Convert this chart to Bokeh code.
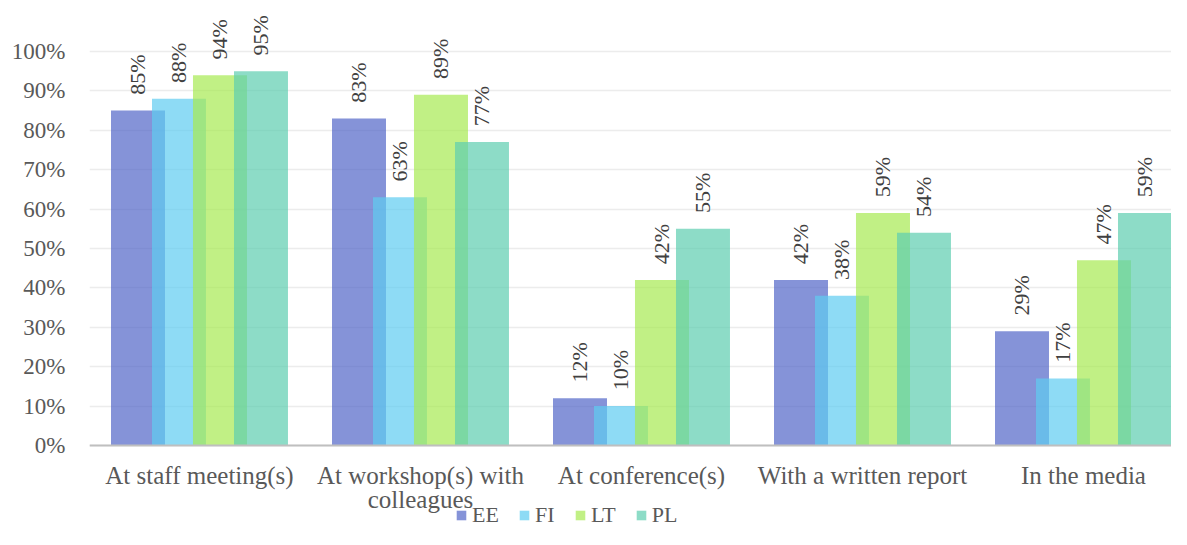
import math
from bokeh.plotting import figure
from bokeh.models import (ColumnDataSource, Range1d, FixedTicker, Legend, LegendItem,
                          NumeralTickFormatter, LabelSet)
from bokeh.core.properties import value
from bokeh.embed import file_html
from bokeh.resources import INLINE

categories = ["At staff meeting(s)", "At workshop(s) with\ncolleagues", "At conference(s)",
              "With a written report", "In the media"]
series = ["EE", "FI", "LT", "PL"]
EE = [85, 83, 12, 42, 29]
FI = [88, 63, 10, 38, 17]
LT = [94, 89, 42, 59, 47]
PL = [95, 77, 55, 54, 59]
y_ticks = [0, 10, 20, 30, 40, 50, 60, 70, 80, 90, 100]

colors = {"EE": "#5165c7", "FI": "#5eccf1", "LT": "#a6ea51", "PL": "#5ccdaf"}
data = {"EE": EE, "FI": FI, "LT": LT, "PL": PL}

FONT = "'Liberation Serif', 'Times New Roman', serif"
W, H = 1171, 529
LEFT = 89
x0 = -0.4977
PX = 394.0          # pixels per 100 %
ZERO = 445.0        # pixel row of 0 %
p = figure(width=W, height=H, output_backend="svg", toolbar_location=None,
           x_range=Range1d(x0, x0 + (W - LEFT) / 221.0),
           y_range=Range1d(-(H - ZERO) / PX, ZERO / PX),
           min_border_left=LEFT, min_border_right=0, min_border_top=0, min_border_bottom=0)
p.outline_line_color = None
p.background_fill_color = "white"

offsets = [-1.5, -0.5, 0.5, 1.5]
step = 0.1855
bw = 0.2443
items = []
for s, off in zip(series, offsets):
    xs = [i + off * step for i in range(len(categories))]
    vals = [v / 100 for v in data[s]]
    src = ColumnDataSource(dict(x=xs, top=vals, lab=[f"{v}%" for v in data[s]],
                                ly=[v + 0.04 for v in vals]))
    r = p.vbar(x="x", top="top", width=bw, bottom=0, source=src,
               fill_color=colors[s], fill_alpha=0.7, line_color=None)
    labels = LabelSet(x="x", y="ly", text="lab", source=src, angle=math.pi / 2,
                      text_align="left", text_baseline="middle", text_font=value(FONT),
                      text_font_size="22px", text_color="#404040")
    p.add_layout(labels)
    items.append(LegendItem(label=s, renderers=[r]))

p.xaxis.fixed_location = 0
p.xaxis.ticker = FixedTicker(ticks=list(range(len(categories))))
p.xaxis.major_label_overrides = {i: c for i, c in enumerate(categories)}
p.xaxis.major_label_text_font = FONT
p.xaxis.major_label_text_font_size = "25px"
p.xaxis.major_label_text_color = "#595959"
p.xaxis.major_label_text_line_height = 0.9
p.xaxis.major_label_standoff = 10
p.xaxis.axis_line_color = "#bfbfbf"
p.xaxis.axis_line_width = 2
p.xaxis.major_tick_line_color = None
p.xaxis.minor_tick_line_color = None

p.yaxis.ticker = FixedTicker(ticks=[t / 100 for t in y_ticks])
p.yaxis.formatter = NumeralTickFormatter(format="0%")
p.yaxis.major_label_text_font = FONT
p.yaxis.major_label_text_font_size = "23px"
p.yaxis.major_label_text_color = "#595959"
p.yaxis.major_label_standoff = 18
p.yaxis.axis_line_color = None
p.yaxis.major_tick_line_color = None
p.yaxis.minor_tick_line_color = None

p.xgrid.grid_line_color = None
p.ygrid.grid_line_color = "#ececec"
p.ygrid.grid_line_width = 1.5

legend = Legend(items=items, orientation="horizontal", location=(366, 1),
                label_text_font=FONT, label_text_font_size="22px",
                label_text_color="#595959",
                glyph_width=12, glyph_height=12, label_standoff=5, spacing=19,
                padding=0, margin=0, border_line_color=None, background_fill_alpha=0)
p.add_layout(legend, "center")

open("out.html", "w").write(file_html(p, INLINE))
